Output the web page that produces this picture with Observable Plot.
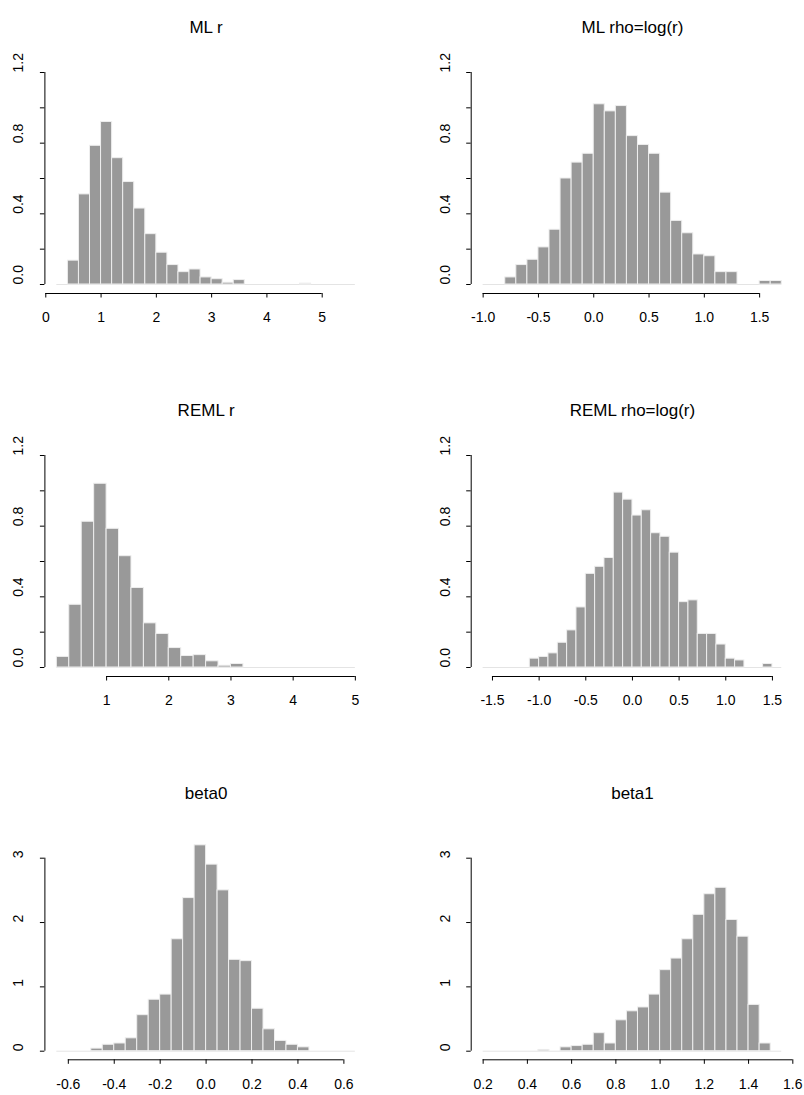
<!DOCTYPE html>
<html>
<head>
<meta charset="utf-8">
<script src="https://cdn.jsdelivr.net/npm/d3@7"></script>
<script src="https://cdn.jsdelivr.net/npm/@observablehq/plot@0.6"></script>
<style>
  body { margin: 0; background: #fff; }
  #fig { position: relative; width: 804px; height: 1095px; overflow: hidden; font-family: "Liberation Sans", Arial, sans-serif; }
  #fig > .panel { position: absolute; }
</style>
</head>
<body>
<div id="fig"></div>
<script>
// ---- Histogram breaks and densities (1000 simulated estimates each) ----

// ML estimate of r
const mlRBreaks  = [0.2, 0.4, 0.6, 0.8, 1.0, 1.2, 1.4, 1.6, 1.8, 2.0, 2.2, 2.4, 2.6, 2.8, 3.0, 3.2, 3.4, 3.6, 3.8, 4.0, 4.2, 4.4, 4.6, 4.8, 5.0, 5.2, 5.4, 5.6];
const mlRDensity = [0, 0.135, 0.51, 0.785, 0.92, 0.715, 0.58, 0.43, 0.285, 0.18, 0.11, 0.07, 0.085, 0.04, 0.03, 0.01, 0.025, 0, 0, 0, 0, 0, 0.005, 0, 0, 0, 0];

// ML estimate of rho = log(r)
const mlRhoBreaks  = [-1.0, -0.9, -0.8, -0.7, -0.6, -0.5, -0.4, -0.3, -0.2, -0.1, 0.0, 0.1, 0.2, 0.3, 0.4, 0.5, 0.6, 0.7, 0.8, 0.9, 1.0, 1.1, 1.2, 1.3, 1.4, 1.5, 1.6, 1.7];
const mlRhoDensity = [0, 0, 0.04, 0.11, 0.14, 0.21, 0.31, 0.6, 0.69, 0.74, 1.02, 0.98, 1.01, 0.84, 0.79, 0.74, 0.52, 0.36, 0.29, 0.17, 0.16, 0.07, 0.07, 0, 0, 0.02, 0.02];

// REML estimate of r
const remlRBreaks  = [0.2, 0.4, 0.6, 0.8, 1.0, 1.2, 1.4, 1.6, 1.8, 2.0, 2.2, 2.4, 2.6, 2.8, 3.0, 3.2, 3.4, 3.6, 3.8, 4.0, 4.2, 4.4, 4.6, 4.8, 5.0];
const remlRDensity = [0.06, 0.355, 0.825, 1.04, 0.785, 0.63, 0.45, 0.25, 0.19, 0.11, 0.065, 0.07, 0.035, 0.01, 0.02, 0, 0, 0, 0, 0, 0, 0, 0, 0];

// REML estimate of rho = log(r)
const remlRhoBreaks  = [-1.6, -1.5, -1.4, -1.3, -1.2, -1.1, -1.0, -0.9, -0.8, -0.7, -0.6, -0.5, -0.4, -0.3, -0.2, -0.1, 0.0, 0.1, 0.2, 0.3, 0.4, 0.5, 0.6, 0.7, 0.8, 0.9, 1.0, 1.1, 1.2, 1.3, 1.4, 1.5, 1.6];
const remlRhoDensity = [0, 0, 0, 0, 0, 0.05, 0.06, 0.08, 0.14, 0.21, 0.34, 0.53, 0.57, 0.62, 0.99, 0.95, 0.86, 0.89, 0.76, 0.74, 0.65, 0.37, 0.38, 0.19, 0.19, 0.13, 0.05, 0.04, 0, 0, 0.02, 0];

// Intercept beta0
const beta0Breaks  = [-0.65, -0.6, -0.55, -0.5, -0.45, -0.4, -0.35, -0.3, -0.25, -0.2, -0.15, -0.1, -0.05, 0.0, 0.05, 0.1, 0.15, 0.2, 0.25, 0.3, 0.35, 0.4, 0.45, 0.5, 0.55, 0.6, 0.65];
const beta0Density = [0, 0, 0, 0.04, 0.1, 0.12, 0.2, 0.56, 0.8, 0.88, 1.74, 2.38, 3.2, 2.9, 2.5, 1.42, 1.4, 0.66, 0.34, 0.16, 0.1, 0.06, 0, 0, 0, 0];

// Slope beta1
const beta1Breaks  = [0.2, 0.25, 0.3, 0.35, 0.4, 0.45, 0.5, 0.55, 0.6, 0.65, 0.7, 0.75, 0.8, 0.85, 0.9, 0.95, 1.0, 1.05, 1.1, 1.15, 1.2, 1.25, 1.3, 1.35, 1.4, 1.45, 1.5, 1.55];
const beta1Density = [0, 0, 0, 0, 0, 0.02, 0, 0.06, 0.08, 0.1, 0.28, 0.12, 0.48, 0.62, 0.68, 0.88, 1.26, 1.44, 1.74, 2.12, 2.44, 2.54, 2.04, 1.78, 0.72, 0.12, 0];

// ---- Axis ticks and tick labels ----
const mlRTicks = [0, 1, 2, 3, 4, 5];
const mlRLabels = ["0", "1", "2", "3", "4", "5"];
const mlRhoTicks = [-1.0, -0.5, 0.0, 0.5, 1.0, 1.5];
const mlRhoLabels = ["-1.0", "-0.5", "0.0", "0.5", "1.0", "1.5"];
const remlRTicks = [1, 2, 3, 4, 5];
const remlRLabels = ["1", "2", "3", "4", "5"];
const remlRhoTicks = [-1.5, -1.0, -0.5, 0.0, 0.5, 1.0, 1.5];
const remlRhoLabels = ["-1.5", "-1.0", "-0.5", "0.0", "0.5", "1.0", "1.5"];
const beta0Ticks = [-0.6, -0.4, -0.2, 0.0, 0.2, 0.4, 0.6];
const beta0Labels = ["-0.6", "-0.4", "-0.2", "0.0", "0.2", "0.4", "0.6"];
const beta1Ticks = [0.2, 0.4, 0.6, 0.8, 1.0, 1.2, 1.4, 1.6];
const beta1Labels = ["0.2", "0.4", "0.6", "0.8", "1.0", "1.2", "1.4", "1.6"];

const densTicks = [0, 0.2, 0.4, 0.6, 0.8, 1.0, 1.2];
const densLabelTicks = [0, 0.4, 0.8, 1.2];
const densLabels = ["0.0", "0.4", "0.8", "1.2"];
const betaDensTicks = [0, 1, 2, 3];
const betaDensLabelTicks = [0, 1, 2, 3];
const betaDensLabels = ["0", "1", "2", "3"];

const titles = ["ML r", "ML rho=log(r)", "REML r", "REML rho=log(r)", "beta0", "beta1"];

// ---- Layout of the 3 x 2 grid ----
const rowTop = [0, 383, 766];
const rowHeight = [383, 383, 329];
const colLeft = [0, 402];
const colWidth = 402;
const colMargins = [{left: 44.4, right: 35.2}, {left: 68.7, right: 10.8}];
// pixel position (within a panel) of density 0, of the top y tick, and of the x axis line
const rowY = [
  {zero: 284, top: 72, axis: 293},
  {zero: 284, top: 72, axis: 293},
  {zero: 284.7, top: 91.7, axis: 293.3}
];

const fill = "#999999";
const edge = "#eeeeee";
const font = "Liberation Sans, Arial, Helvetica, sans-serif";
const tickFont = 14;
const titleFont = 17;

function histPanel({title, breaks, density, xTicks, xLabels, yTicks, yLabelTicks, yLabels, row, col}) {
  const bins = density.map((v, i) => ({x1: breaks[i], x2: breaks[i + 1], y: v}));
  const lo = breaks[0], hi = breaks[breaks.length - 1];
  const pad = 0.04 * (hi - lo);
  const xDomain = [lo - pad, hi + pad];
  const ry = rowY[row];
  const height = rowHeight[row];
  const marginTop = 60;
  const yTop = yTicks[yTicks.length - 1];

  return Plot.plot({
    width: colWidth,
    height,
    marginLeft: colMargins[col].left,
    marginRight: colMargins[col].right,
    marginTop,
    marginBottom: height - ry.axis,
    style: {fontFamily: font, background: "transparent", color: "#000"},
    x: {domain: xDomain},
    y: {domain: [0, yTop], range: [ry.zero, ry.top]},
    marks: [
      // light baseline under empty bins
      Plot.ruleY([0], {x1: lo, x2: hi, stroke: "#e4e4e4", strokeWidth: 1}),
      // histogram bars
      Plot.rect(bins.filter(d => d.y > 0), {
        x1: "x1", x2: "x2", y1: 0, y2: "y",
        fill, stroke: edge, strokeWidth: 1
      }),
      // x axis: line from first to last tick, ticks and labels
      Plot.ruleY([0], {x1: xTicks[0], x2: xTicks[xTicks.length - 1], dy: ry.axis - ry.zero, stroke: "#000", strokeWidth: 1}),
      Plot.axisX(xTicks, {
        anchor: "bottom", label: null, tickSize: 4.5, tickPadding: 14.5, fontSize: tickFont,
        tickFormat: d => xLabels[xTicks.indexOf(d)]
      }),
      // y axis: line from 0 to top tick, ticks, rotated labels
      Plot.ruleX([xDomain[0]], {y1: 0, y2: yTop, stroke: "#000", strokeWidth: 1}),
      Plot.axisY(yTicks, {anchor: "left", label: null, tickSize: 4.5, tickFormat: () => ""}),
      Plot.text(yLabelTicks, {
        y: d => d, text: d => yLabels[yLabelTicks.indexOf(d)],
        frameAnchor: "left", rotate: -90, dx: -26, fontSize: tickFont, fill: "#000"
      }),
      // panel title
      Plot.text([title], {
        frameAnchor: "top", dy: 20 - marginTop, fontSize: titleFont, fill: "#000"
      })
    ]
  });
}

const specs = [
  {title: titles[0], breaks: mlRBreaks, density: mlRDensity, xTicks: mlRTicks, xLabels: mlRLabels,
   yTicks: densTicks, yLabelTicks: densLabelTicks, yLabels: densLabels, row: 0, col: 0},
  {title: titles[1], breaks: mlRhoBreaks, density: mlRhoDensity, xTicks: mlRhoTicks, xLabels: mlRhoLabels,
   yTicks: densTicks, yLabelTicks: densLabelTicks, yLabels: densLabels, row: 0, col: 1},
  {title: titles[2], breaks: remlRBreaks, density: remlRDensity, xTicks: remlRTicks, xLabels: remlRLabels,
   yTicks: densTicks, yLabelTicks: densLabelTicks, yLabels: densLabels, row: 1, col: 0},
  {title: titles[3], breaks: remlRhoBreaks, density: remlRhoDensity, xTicks: remlRhoTicks, xLabels: remlRhoLabels,
   yTicks: densTicks, yLabelTicks: densLabelTicks, yLabels: densLabels, row: 1, col: 1},
  {title: titles[4], breaks: beta0Breaks, density: beta0Density, xTicks: beta0Ticks, xLabels: beta0Labels,
   yTicks: betaDensTicks, yLabelTicks: betaDensLabelTicks, yLabels: betaDensLabels, row: 2, col: 0},
  {title: titles[5], breaks: beta1Breaks, density: beta1Density, xTicks: beta1Ticks, xLabels: beta1Labels,
   yTicks: betaDensTicks, yLabelTicks: betaDensLabelTicks, yLabels: betaDensLabels, row: 2, col: 1}
];

const fig = document.getElementById("fig");
for (const s of specs) {
  const div = document.createElement("div");
  div.className = "panel";
  div.style.left = colLeft[s.col] + "px";
  div.style.top = rowTop[s.row] + "px";
  div.appendChild(histPanel(s));
  fig.appendChild(div);
}
</script>
</body>
</html>
